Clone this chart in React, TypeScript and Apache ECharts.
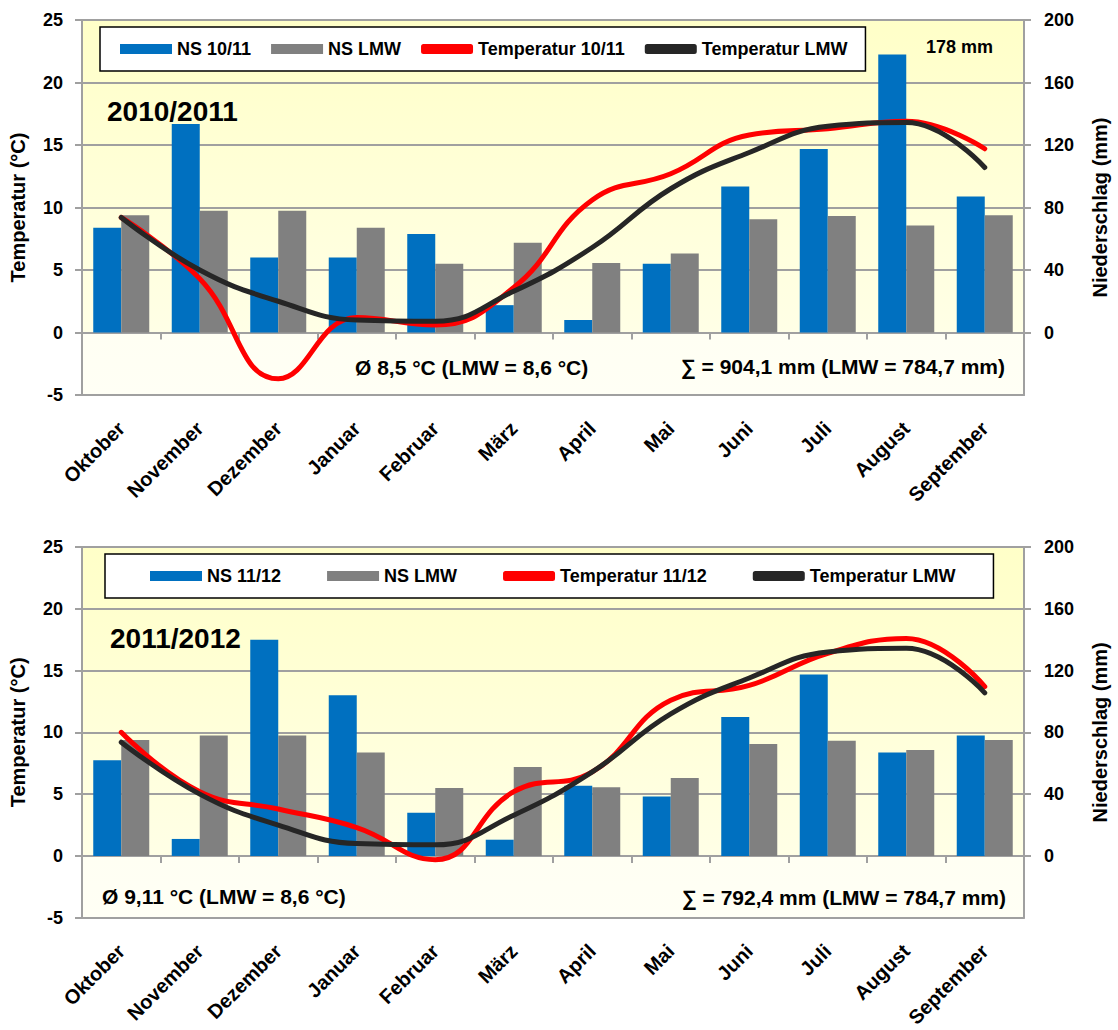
import React, { useEffect, useRef } from "react";
import * as echarts from "echarts";

const months = ["Oktober", "November", "Dezember", "Januar", "Februar", "März", "April", "Mai", "Juni", "Juli", "August", "September"];

// Niederschlag (mm)
const ns1011 = [67, 133.5, 48, 48, 63, 17.5, 8, 44, 93.5, 117.5, 178, 87];
const ns1112 = [62, 11, 140, 104, 28, 10.5, 45.5, 38.5, 90, 117.5, 67, 78];
const nsLmw = [75, 78, 78, 67, 44, 57.5, 44.5, 50.5, 72.5, 74.5, 68.5, 75];

// Temperatur (°C)
const t1011 = [9.2, 4.3, -3.7, 1.2, 0.6, 3.6, 10.6, 12.7, 15.8, 16.3, 16.9, 14.7];
const t1112 = [10.0, 5.2, 3.8, 2.3, -0.3, 5.2, 6.8, 12.6, 13.8, 16.4, 17.6, 13.7];
const tLmw = [9.2, 5.0, 2.5, 1.0, 0.9, 3.3, 6.8, 11.5, 14.4, 16.5, 16.8, 13.2];

const tempTicks = { min: -5, max: 25, interval: 5 };
const precipTicks = [0, 40, 80, 120, 160, 200];

const FONT = "'Liberation Sans', Arial, sans-serif";
const GRAY = "#A0A0A0";
const BLUE = "#0070C0";
const BAR_GRAY = "#808080";
const RED = "#FF0000";
const BLACK = "#262626";

function bgGradient() {
  return new echarts.graphic.LinearGradient(0, 0, 0, 1, [
    { offset: 0, color: "#FFFFC8" },
    { offset: 0.833, color: "#FFFFE6" },
    { offset: 0.834, color: "#FFFFF3" },
    { offset: 1, color: "#FFFFF5" },
  ]);
}

const labelFont = { fontFamily: FONT, fontWeight: "bold" as const, fontSize: 18, color: "#000" };

function buildPanel(idx: number, top: number, nsYear: number[], tYear: number[], suffix: string) {
  const grid = {
    left: 82,
    right: 90,
    top,
    height: 375,
    show: true,
    backgroundColor: bgGradient(),
    borderWidth: 0,
  };
  const xAxes = [
    {
      gridIndex: idx,
      type: "category",
      data: months,
      position: "bottom",
      axisLine: { show: true, onZero: true, onZeroAxisIndex: idx * 2, lineStyle: { color: GRAY, width: 2 } },
      axisTick: { show: true, length: 7, lineStyle: { color: GRAY, width: 2 } },
      axisLabel: { show: false },
      splitLine: { show: false },
    },
    {
      gridIndex: idx,
      type: "category",
      data: months,
      position: "bottom",
      axisLine: { show: true, onZero: false, lineStyle: { color: GRAY, width: 2 } },
      axisTick: { show: false },
      axisLabel: { ...labelFont, fontSize: 20, rotate: 45, margin: 30, interval: 0 },
      splitLine: { show: false },
    },
  ];
  const yAxes = [
    {
      gridIndex: idx,
      type: "value",
      position: "left",
      ...tempTicks,
      axisLine: { show: true, lineStyle: { color: GRAY, width: 2 } },
      axisTick: { show: true, length: 7, lineStyle: { color: GRAY, width: 2 } },
      axisLabel: { ...labelFont, margin: 19 },
      splitLine: { show: true, lineStyle: { color: GRAY, width: 2 } },
      name: "Temperatur (°C)",
      nameLocation: "middle",
      nameRotate: 90,
      nameGap: 54,
      nameTextStyle: { fontFamily: FONT, fontWeight: "bold", fontSize: 20, color: "#000" },
    },
    {
      gridIndex: idx,
      type: "value",
      position: "right",
      min: -40,
      max: 200,
      interval: 40,
      axisLine: { show: true, lineStyle: { color: GRAY, width: 2 } },
      axisTick: { show: true, length: 7, customValues: precipTicks, lineStyle: { color: GRAY, width: 2 } },
      axisLabel: { ...labelFont, margin: 20, customValues: precipTicks },
      splitLine: { show: false },
      name: "Niederschlag (mm)",
      nameLocation: "middle",
      nameRotate: 90,
      nameGap: 66,
      nameTextStyle: { fontFamily: FONT, fontWeight: "bold", fontSize: 20, color: "#000" },
    },
  ];
  const xi = idx * 2;
  const series = [
    {
      type: "bar",
      name: "NS " + suffix,
      xAxisIndex: xi,
      yAxisIndex: idx * 2 + 1,
      data: nsYear,
      barWidth: 28,
      barGap: "0%",
      itemStyle: { color: BLUE },
    },
    {
      type: "bar",
      name: "NS LMW",
      xAxisIndex: xi,
      yAxisIndex: idx * 2 + 1,
      data: nsLmw,
      barWidth: 28,
      barGap: "0%",
      itemStyle: { color: BAR_GRAY },
    },
    {
      type: "line",
      name: "Temperatur " + suffix,
      xAxisIndex: xi,
      yAxisIndex: idx * 2,
      data: tYear,
      smooth: 0.45,
      symbol: "none",
      lineStyle: { color: RED, width: 5, cap: "round" },
      itemStyle: { color: RED },
      z: 3,
    },
    {
      type: "line",
      name: "Temperatur LMW",
      xAxisIndex: xi,
      yAxisIndex: idx * 2,
      data: tLmw,
      smooth: 0.45,
      symbol: "none",
      lineStyle: { color: BLACK, width: 5, cap: "round" },
      itemStyle: { color: BLACK },
      z: 4,
    },
  ];
  return { grid, xAxes, yAxes, series };
}

function legendFor(suffix: string, left: number, top: number, itemGap: number, padding: number[]) {
  return {
    left,
    top,
    orient: "horizontal",
    selectedMode: false,
    data: [
      { name: "NS " + suffix, icon: "rect" },
      { name: "NS LMW", icon: "rect" },
      { name: "Temperatur " + suffix, icon: "roundRect", itemStyle: { color: RED } },
      { name: "Temperatur LMW", icon: "roundRect", itemStyle: { color: BLACK } },
    ],
    itemWidth: 52,
    itemHeight: 10,
    itemGap,
    backgroundColor: "#FFFFFF",
    borderColor: "#000000",
    borderWidth: 1.5,
    padding,
    textStyle: { fontFamily: FONT, fontWeight: "bold", fontSize: 18, color: "#000" },
  };
}

function txt(text: string, x: number, y: number, size: number, align: string = "left") {
  return {
    type: "text",
    x,
    y,
    z: 100,
    style: {
      text,
      fill: "#000",
      font: `bold ${size}px ${FONT}`,
      align,
      verticalAlign: "middle",
    },
  };
}

export default function App() {
  const ref = useRef<HTMLDivElement>(null);
  useEffect(() => {
    if (!ref.current) return;
    const chart = echarts.init(ref.current, null, { renderer: "svg" });
    const p1 = buildPanel(0, 20, ns1011, t1011, "10/11");
    const p2 = buildPanel(1, 547, ns1112, t1112, "11/12");
    const option = {
      animation: false,
      backgroundColor: "#FFFFFF",
      grid: [p1.grid, p2.grid],
      xAxis: [...p1.xAxes, ...p2.xAxes],
      yAxis: [...p1.yAxes, ...p2.yAxes],
      series: [...p1.series, ...p2.series],
      legend: [
        legendFor("10/11", 100, 27, 20, [13, 18, 13, 20]),
        legendFor("11/12", 105, 554, 46, [13, 38, 13, 45]),
      ],
      graphic: [
        txt("2010/2011", 107, 111, 28),
        txt("178 mm", 926, 47, 18),
        txt("Ø 8,5 °C (LMW = 8,6 °C)", 355, 367, 21),
        txt("∑ = 904,1 mm (LMW = 784,7 mm)", 1005, 366, 21, "right"),
        txt("2011/2012", 110, 638, 28),
        txt("Ø 9,11 °C (LMW = 8,6 °C)", 102, 896, 21),
        txt("∑ = 792,4 mm (LMW = 784,7 mm)", 1006, 897, 21, "right"),
      ],
    };
    chart.setOption(option as any);
    return () => chart.dispose();
  }, []);
  return (
    <div
      ref={ref}
      style={{ position: "absolute", left: 0, top: 0, width: 1118, height: 1030, background: "#fff" }}
    />
  );
}
